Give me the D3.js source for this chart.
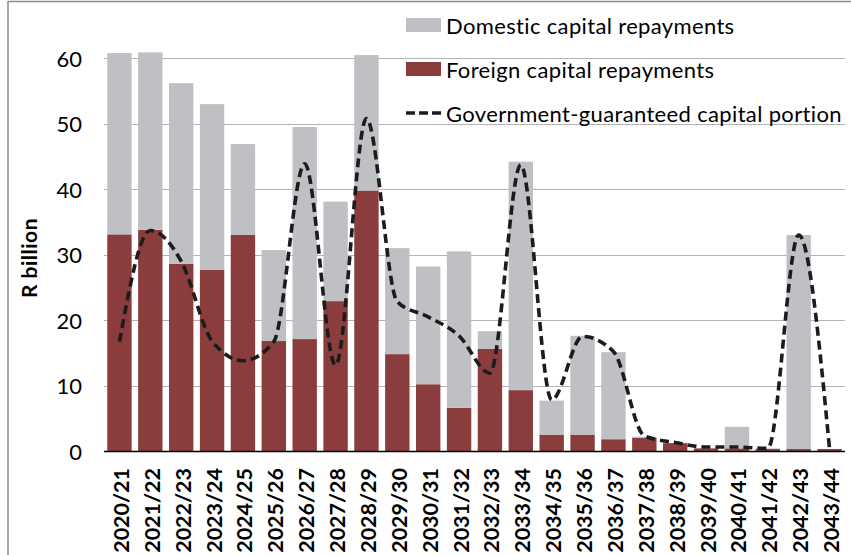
<!DOCTYPE html>
<html>
<head>
<meta charset="utf-8">
<script src="https://cdn.jsdelivr.net/npm/d3@7"></script>
<style>
  html, body { margin: 0; padding: 0; background: #fff; }
  svg { display: block; }
  text { font-family: Lato, "Open Sans", sans-serif; fill: #000; }
</style>
</head>
<body>
<svg id="chart" width="851" height="555"></svg>
<script>
const categories = ["2020/21","2021/22","2022/23","2023/24","2024/25","2025/26","2026/27","2027/28","2028/29","2029/30","2030/31","2031/32","2032/33","2033/34","2034/35","2035/36","2036/37","2037/38","2038/39","2039/40","2040/41","2041/42","2042/43","2043/44"];
const foreign  = [33.1, 33.8, 28.6, 27.7, 33.0, 16.8, 17.1, 22.9, 39.8, 14.8, 10.2, 6.6, 15.6, 9.3, 2.5, 2.5, 1.8, 2.0, 1.2, 0.4, 0.4, 0.3, 0.3, 0.3];
const domestic = [27.7, 27.1, 27.6, 25.3, 13.9, 13.9, 32.4, 15.2, 20.7, 16.2, 18.0, 23.9, 2.7, 34.9, 5.2, 15.1, 13.3, 0.2, 0.0, 0.0, 3.3, 0.1, 32.7, 0.0];
const guaranteed = [16.7, 33.7, 29.0, 16.8, 13.8, 16.7, 43.9, 13.1, 50.8, 22.8, 20.5, 17.6, 11.9, 43.7, 7.8, 17.5, 15.2, 2.3, 1.3, 0.6, 0.6, 0.4, 33.0, 0.3];
const yTicks = [0, 10, 20, 30, 40, 50, 60];
const seriesNames = ["Domestic capital repayments", "Foreign capital repayments", "Government-guaranteed capital portion"];
const colors = { domestic: "#bfc0c4", foreign: "#8b3d3e", line: "#1c1c1c" };

const svg = d3.select("#chart");

// outer frame (top and left edges visible)
svg.append("line").attr("x1", 8).attr("x2", 851).attr("y1", 1.5).attr("y2", 1.5)
  .attr("stroke", "#8a8a8a").attr("stroke-width", 1.5);
svg.append("line").attr("x1", 8).attr("x2", 8).attr("y1", 1).attr("y2", 555)
  .attr("stroke", "#8a8a8a").attr("stroke-width", 1.5);

const x = d3.scaleBand().domain(categories).range([104, 845])
  .paddingInner(0.21).paddingOuter(0.105);
const y = d3.scaleLinear().domain([0, 60]).range([451, 58.3]);

// gridlines
svg.append("g").selectAll("line").data(yTicks.filter(d => d > 0)).join("line")
  .attr("x1", 104).attr("x2", 845)
  .attr("y1", d => Math.round(y(d)) + 0.5).attr("y2", d => Math.round(y(d)) + 0.5)
  .attr("stroke", "#b3b3b3").attr("stroke-width", 1);

// y tick labels
svg.append("g").selectAll("text").data(yTicks).join("text")
  .attr("x", 82).attr("y", d => y(d))
  .attr("text-anchor", "end").attr("dominant-baseline", "central")
  .attr("font-size", 22).text(d => d);

// y axis title
svg.append("text")
  .attr("transform", "translate(28,258) rotate(-90)")
  .attr("text-anchor", "middle").attr("dominant-baseline", "central")
  .attr("font-size", 21).attr("font-weight", "bold").attr("letter-spacing", 0.5).text("R billion");

// stacked bars
const rows = categories.map((c, i) => ({ cat: c, foreign: foreign[i], domestic: domestic[i] }));
const stack = d3.stack().keys(["foreign", "domestic"])(rows);
svg.append("g").selectAll("g").data(stack).join("g")
  .attr("fill", d => colors[d.key])
  .selectAll("rect").data(d => d).join("rect")
  .attr("x", d => x(d.data.cat))
  .attr("width", x.bandwidth())
  .attr("y", d => y(d[1]))
  .attr("height", d => Math.max(0, y(d[0]) - y(d[1])));

// bottom axis line
svg.append("line").attr("x1", 104).attr("x2", 845).attr("y1", 451.5).attr("y2", 451.5)
  .attr("stroke", "#000").attr("stroke-width", 1.5);

// x labels
svg.append("g").selectAll("text").data(categories).join("text")
  .attr("transform", d => `translate(${x(d) + x.bandwidth() / 2 + 1.5},468) rotate(-90)`)
  .attr("text-anchor", "end").attr("dominant-baseline", "central")
  .attr("font-size", 21.5).attr("font-weight", "bold").text(d => d);

// guaranteed line
const line = d3.line()
  .x((d, i) => x(categories[i]) + x.bandwidth() / 2)
  .y(d => y(d))
  .curve(d3.curveMonotoneX);
svg.append("path").datum(guaranteed)
  .attr("d", line).attr("fill", "none")
  .attr("stroke", colors.line).attr("stroke-width", 3.6)
  .attr("stroke-dasharray", "9,5");

// legend
const lg = svg.append("g");
const lx = 406, ly = [25, 69, 113];
lg.append("rect").attr("x", lx).attr("y", ly[0] - 7).attr("width", 35).attr("height", 14).attr("fill", colors.domestic);
lg.append("rect").attr("x", lx).attr("y", ly[1] - 7).attr("width", 35).attr("height", 14).attr("fill", colors.foreign);
lg.append("line").attr("x1", lx).attr("x2", lx + 35).attr("y1", ly[2]).attr("y2", ly[2])
  .attr("stroke", colors.line).attr("stroke-width", 3.6).attr("stroke-dasharray", "9,4");
lg.selectAll("text").data(seriesNames).join("text")
  .attr("x", lx + 40).attr("y", (d, i) => ly[i])
  .attr("dominant-baseline", "central").attr("font-size", 22).attr("letter-spacing", 0.35).text(d => d);
</script>
</body>
</html>
